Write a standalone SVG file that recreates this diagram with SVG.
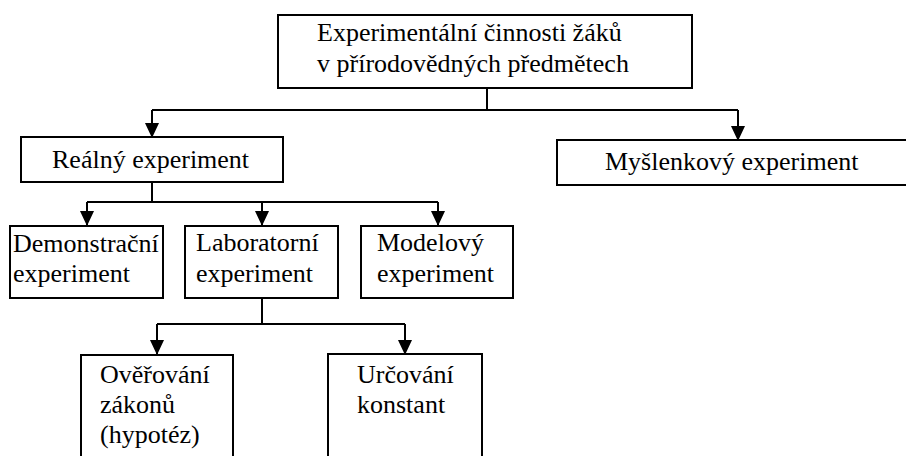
<svg xmlns="http://www.w3.org/2000/svg" width="906" height="456" viewBox="0 0 906 456">
<defs>
<style>
.box{fill:#fff;stroke:#000;stroke-width:2}
.t{font-family:"Liberation Serif","Times New Roman",serif;font-size:26px;fill:#000}
.c{fill:none;stroke:#000;stroke-width:2}
</style>
<marker id="ah" viewBox="0 0 15 14" refX="14" refY="7" markerWidth="15" markerHeight="14" markerUnits="userSpaceOnUse" orient="auto">
<path d="M0,0 L15,7 L0,14 Z" fill="#000"/>
</marker>
</defs>
<rect width="906" height="456" fill="#fff"/>
<g id="connectors">
<path class="c" d="M487,88 V110 M152,110 H738"/>
<path class="c" d="M152,110 V137" marker-end="url(#ah)"/>
<path class="c" d="M738,110 V140" marker-end="url(#ah)"/>
<path class="c" d="M152,182 V202 M87,202 H438"/>
<path class="c" d="M87,202 V225" marker-end="url(#ah)"/>
<path class="c" d="M262,202 V225" marker-end="url(#ah)"/>
<path class="c" d="M438,202 V225" marker-end="url(#ah)"/>
<path class="c" d="M262,298 V324 M157,324 H405"/>
<path class="c" d="M157,324 V354" marker-end="url(#ah)"/>
<path class="c" d="M405,324 V354" marker-end="url(#ah)"/>
</g>
<g font-family="Liberation Serif, Times New Roman, serif">
<g id="root">
<rect class="box" x="278" y="15" width="414" height="73"/>
<text class="t" x="317" y="41">Experimentální činnosti žáků</text>
<text class="t" x="317" y="72">v přírodovědných předmětech</text>
</g>
<g id="realny">
<rect class="box" x="21" y="137" width="262" height="45"/>
<text class="t" x="52" y="168">Reálný experiment</text>
</g>
<g id="myslenkovy">
<rect class="box" x="557" y="140" width="360" height="45"/>
<text class="t" x="605" y="170">Myšlenkový experiment</text>
</g>
<g id="demonstracni">
<rect class="box" x="10" y="226" width="153" height="72"/>
<text class="t" x="13" y="252">Demonstrační</text>
<text class="t" x="13" y="282">experiment</text>
</g>
<g id="laboratorni">
<rect class="box" x="185" y="226" width="153" height="72"/>
<text class="t" x="196" y="251">Laboratorní</text>
<text class="t" x="196" y="282">experiment</text>
</g>
<g id="modelovy">
<rect class="box" x="361" y="226" width="152" height="72"/>
<text class="t" x="377" y="251">Modelový</text>
<text class="t" x="377" y="282">experiment</text>
</g>
<g id="overovani">
<rect class="box" x="81" y="355" width="152" height="110"/>
<text class="t" x="100" y="383">Ověřování</text>
<text class="t" x="100" y="413">zákonů</text>
<text class="t" x="100" y="443">(hypotéz)</text>
</g>
<g id="urcovani">
<rect class="box" x="328" y="354" width="154" height="110"/>
<text class="t" x="357" y="383">Určování</text>
<text class="t" x="357" y="413">konstant</text>
</g>
</g>
</svg>
